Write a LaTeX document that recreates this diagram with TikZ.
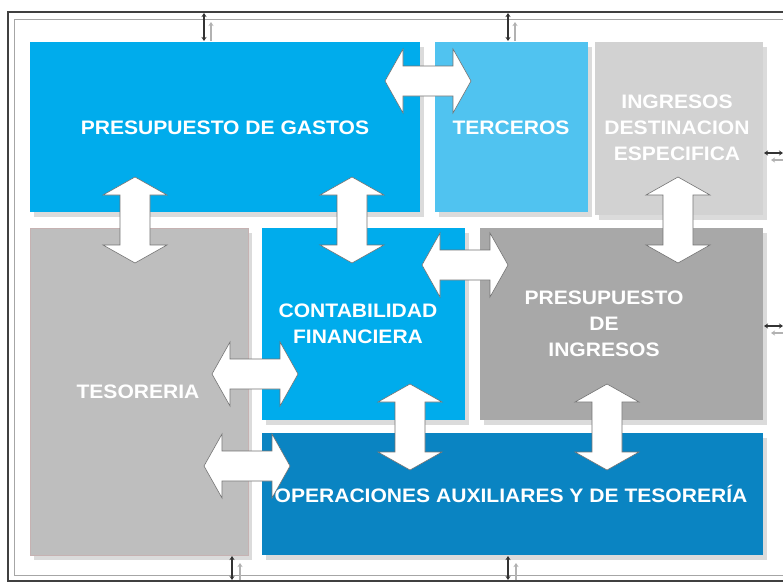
\documentclass[tikz,border=0pt]{standalone}
\usepackage{fontspec}
\newfontfamily\lab[FakeStretch=1.08]{Liberation Sans}
\usetikzlibrary{shadows,arrows.meta}
\definecolor{cgastos}{RGB}{0,172,236}
\definecolor{cterceros}{RGB}{80,195,240}
\definecolor{cingdest}{RGB}{210,210,210}
\definecolor{ctes}{RGB}{190,190,190}
\definecolor{cpring}{RGB}{168,168,168}
\definecolor{coper}{RGB}{10,132,194}
\newcommand\HArr[2]{%
  \draw[bigarrow,shift={(#1,#2)}] (-43,0) -- (-25,-32) -- (-25,-15) -- (25,-15) -- (25,-32) -- (43,0) -- (25,32) -- (25,15) -- (-25,15) -- (-25,32) -- cycle;}
\newcommand\VArr[2]{%
  \draw[bigarrow,shift={(#1,#2)}] (0,-43) -- (-32,-25) -- (-15,-25) -- (-15,25) -- (-32,25) -- (0,43) -- (32,25) -- (15,25) -- (15,-25) -- (32,-25) -- cycle;}
\begin{document}
\begin{tikzpicture}[x=1pt,y=-1pt,
  box/.style={rectangle, inner sep=0pt, anchor=north west,
    drop shadow={shadow xshift=4pt, shadow yshift=-5pt, fill=black!14, opacity=1}},
  lbl/.style={text=white, align=center, font=\lab\bfseries\fontsize{19.5}{26}\selectfont},
  bigarrow/.style={fill=white, draw=black!55, line width=0.6pt, line join=miter},
  smalldark/.style={draw=black!80, line width=1.6pt, {Stealth[length=4pt,width=5pt]}-{Stealth[length=4pt,width=5pt]}},
  smalllight/.style={draw=black!30, line width=1.2pt, -{Stealth[length=4pt,width=5pt]}}]
\useasboundingbox (0,0) rectangle (783,584);
\fill[white] (0,0) rectangle (783,584);
% frames
\draw[black!75, line width=1.3pt] (783,12) -- (8,12) -- (8,581) -- (783,581);
\draw[black!35, line width=1pt] (783,19) -- (14,19) -- (14,575) -- (783,575);
% boxes
\node[box, fill=cgastos, minimum width=390, minimum height=170] (gastos) at (30,42) {};
\node[box, fill=cterceros, minimum width=153, minimum height=170] (terceros) at (435,42) {};
\node[box, fill=cingdest, minimum width=168, minimum height=173] (ingdest) at (595,42) {};
\node[box, fill=ctes, draw=red!25!black!30, line width=0.6pt, minimum width=218, minimum height=327] (tes) at (30,228) {};
\node[box, fill=cgastos, minimum width=203, minimum height=192] (cont) at (262,228) {};
\node[box, fill=cpring, minimum width=283, minimum height=192] (pring) at (480,228) {};
\node[box, fill=coper, minimum width=501, minimum height=122] (oper) at (262,433) {};
% big arrows
\HArr{428}{81}
\VArr{135}{220}
\VArr{352}{220}
\VArr{678}{220}
\HArr{465}{265}
\HArr{255}{374}
\HArr{247}{466}
\VArr{410}{427}
\VArr{607}{427}
% labels
\node[lbl] (tgastos) at (225,128) {PRESUPUESTO DE GASTOS};
\node[lbl] (tterceros) at (511,128) {TERCEROS};
\node[lbl] (tingdest) at (677,128) {INGRESOS\\DESTINACION\\ESPECIFICA};
\node[lbl] (tcont) at (358,324) {CONTABILIDAD\\FINANCIERA};
\node[lbl] (tpring) at (604,324) {PRESUPUESTO\\DE\\INGRESOS};
\node[lbl] (ttes) at (138,392) {TESORERIA};
\node[lbl] (toper) at (511,494) {OPERACIONES AUXILIARES Y DE TESORERÍA};
% small connectors
\coordinate (t1a) at (204,13); \coordinate (t1b) at (204,41);
\coordinate (t1c) at (211,41); \coordinate (t1d) at (211,22);
\coordinate (t2a) at (508,13); \coordinate (t2b) at (508,41);
\coordinate (t2c) at (515,41); \coordinate (t2d) at (515,22);
\coordinate (b1a) at (232,556); \coordinate (b1b) at (232,580);
\coordinate (b1c) at (240,580); \coordinate (b1d) at (240,563);
\coordinate (b2a) at (508,556); \coordinate (b2b) at (508,580);
\coordinate (b2c) at (516,580); \coordinate (b2d) at (516,563);
\coordinate (r1a) at (764,153); \coordinate (r1b) at (783,153);
\coordinate (r1c) at (783,160); \coordinate (r1d) at (771,160);
\coordinate (r2a) at (764,326); \coordinate (r2b) at (783,326);
\coordinate (r2c) at (783,333); \coordinate (r2d) at (771,333);
\draw[smalllight] (t1c) -- (t1d); \draw[smalldark] (t1a) -- (t1b);
\draw[smalllight] (t2c) -- (t2d); \draw[smalldark] (t2a) -- (t2b);
\draw[smalllight] (b1c) -- (b1d); \draw[smalldark] (b1a) -- (b1b);
\draw[smalllight] (b2c) -- (b2d); \draw[smalldark] (b2a) -- (b2b);
\draw[smalllight] (r1c) -- (r1d); \draw[smalldark] (r1a) -- (r1b);
\draw[smalllight] (r2c) -- (r2d); \draw[smalldark] (r2a) -- (r2b);
\end{tikzpicture}
\end{document}
